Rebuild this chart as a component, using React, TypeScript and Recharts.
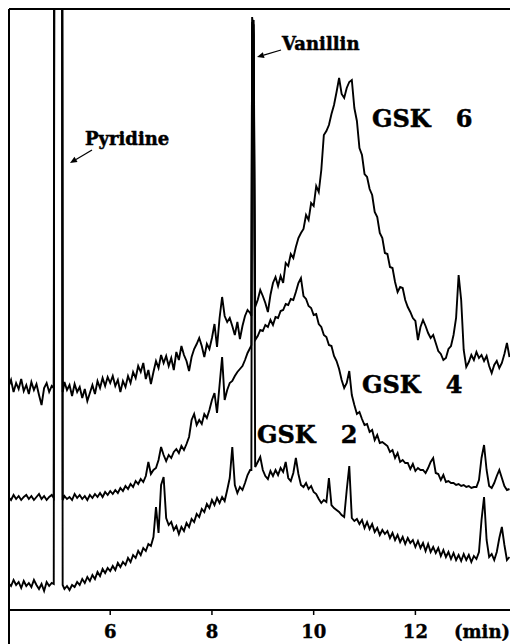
import React from "react";
import { LineChart, Line, XAxis, YAxis, ReferenceLine, ReferenceDot } from "recharts";

// Retention time (min)
const times = [
  4.00, 4.05, 4.10, 4.15, 4.20, 4.25, 4.30, 4.35, 4.40, 4.45,
  4.50, 4.55, 4.60, 4.65, 4.70, 4.75, 4.80, 4.85, 4.89, 4.905,
  5.05, 5.065, 5.10, 5.15, 5.20, 5.25, 5.30, 5.35, 5.40, 5.45,
  5.50, 5.55, 5.60, 5.65, 5.70, 5.75, 5.80, 5.85, 5.90, 5.95,
  6.00, 6.05, 6.10, 6.15, 6.20, 6.25, 6.30, 6.35, 6.40, 6.45,
  6.50, 6.55, 6.60, 6.65, 6.70, 6.75, 6.80, 6.85, 6.90, 6.95,
  7.00, 7.05, 7.10, 7.15, 7.20, 7.25, 7.30, 7.35, 7.40, 7.45,
  7.50, 7.55, 7.60, 7.65, 7.70, 7.75, 7.80, 7.85, 7.90, 7.95,
  8.00, 8.05, 8.10, 8.15, 8.20, 8.25, 8.30, 8.35, 8.40, 8.45,
  8.50, 8.55, 8.60, 8.65, 8.70, 8.75, 8.775, 8.79, 8.82, 8.85,
  8.90, 8.95, 9.00, 9.05, 9.10, 9.15, 9.20, 9.25, 9.30, 9.35,
  9.40, 9.45, 9.50, 9.55, 9.60, 9.65, 9.70, 9.75, 9.80, 9.85,
  9.90, 9.95, 10.00, 10.05, 10.10, 10.15, 10.20, 10.25, 10.30, 10.35,
  10.40, 10.45, 10.50, 10.55, 10.60, 10.65, 10.70, 10.75, 10.80, 10.85,
  10.90, 10.95, 11.00, 11.05, 11.10, 11.15, 11.20, 11.25, 11.30, 11.35,
  11.40, 11.45, 11.50, 11.55, 11.60, 11.65, 11.70, 11.75, 11.80, 11.85,
  11.90, 11.95, 12.00, 12.05, 12.10, 12.15, 12.20, 12.25, 12.30, 12.35,
  12.40, 12.45, 12.50, 12.55, 12.60, 12.65, 12.70, 12.75, 12.80, 12.85,
  12.90, 12.95, 13.00, 13.05, 13.10, 13.15, 13.20, 13.25, 13.30, 13.35,
  13.40, 13.45, 13.50, 13.55, 13.60, 13.65, 13.70, 13.75, 13.80, 13.85,
];

// Detector signal (arbitrary units, traces offset as in the figure)
const gsk6 = [
  223, 230, 218, 227, 221, 231, 219, 225, 216, 228,
  220, 226, 215, 205, 222, 227, 218, 224, 222, 1000,
  1000, 218, 228, 220, 225, 214, 226, 218, 223, 212,
  221, 209, 217, 225, 216, 229, 222, 232, 224, 233,
  227, 234, 224, 230, 218, 229, 223, 234, 227, 238,
  232, 244, 238, 247, 231, 240, 226, 238, 249, 242,
  255, 247, 254, 244, 252, 240, 258, 250, 264, 255,
  249, 239, 253, 261, 266, 272, 264, 253, 266, 261,
  272, 286, 263, 292, 313, 294, 288, 292, 284, 275,
  288, 271, 284, 294, 300, 297, 294, 588, 585, 303,
  310, 320, 314, 307, 298, 315, 327, 333, 324, 334,
  327, 347, 344, 356, 352, 363, 372, 377, 381, 395,
  390, 407, 404, 424, 418, 440, 475, 479, 485, 496,
  505, 518, 532, 516, 512, 522, 528, 530, 502, 489,
  462, 455, 436, 433, 421, 415, 398, 393, 377, 372,
  357, 356, 343, 342, 328, 318, 323, 322, 310, 303,
  298, 292, 289, 270, 283, 290, 284, 277, 272, 275,
  267, 259, 256, 250, 252, 261, 264, 275, 292, 335,
  310, 260, 243, 248, 255, 250, 258, 252, 255, 249,
  254, 244, 237, 245, 249, 242, 247, 256, 267, 253,
];

const gsk4 = [
  113, 110, 115, 111, 114, 110, 113, 115, 111, 114,
  110, 113, 116, 111, 114, 110, 113, 115, 112, 1000,
  1000, 110, 114, 111, 113, 110, 116, 112, 115, 111,
  114, 110, 115, 112, 116, 113, 117, 113, 118, 115,
  119, 116, 120, 117, 122, 119, 124, 121, 126, 123,
  129, 126, 131, 128, 134, 148, 136, 140, 142, 150,
  163, 155, 149, 155, 152, 158, 161, 157, 164, 160,
  166, 173, 190, 196, 185, 190, 186, 196, 192, 200,
  210, 217, 197, 225, 253, 210, 220, 227, 229, 234,
  238, 241, 244, 250, 257, 262, 265, 593, 575, 270,
  274, 280, 279, 285, 283, 290, 285, 293, 292, 299,
  300, 306, 305, 311, 310, 318, 327, 332, 314, 311,
  304, 302, 295, 296, 286, 283, 275, 273, 265, 264,
  254, 249, 241, 230, 222, 227, 239, 215, 205, 196,
  198, 191, 185, 186, 178, 180, 170, 175, 167, 168,
  166, 164, 158, 160, 152, 157, 148, 150, 147, 147,
  141, 146, 139, 142, 140, 140, 137, 142, 148, 152,
  137, 136, 130, 135, 128, 129, 127, 127, 125, 126,
  124, 125, 123, 124, 122, 123, 123, 130, 152, 165,
  140, 124, 122, 127, 134, 140, 132, 124, 120, 121,
];

const gsk2 = [
  27, 24, 30, 25, 28, 22, 29, 24, 27, 23,
  30, 25, 21, 26, 19, 28, 24, 27, 26, 1000,
  1000, 25, 21, 24, 20, 25, 23, 28, 25, 31,
  27, 33, 29, 35, 31, 38, 34, 41, 37, 42,
  39, 44, 40, 47, 43, 48, 45, 52, 48, 55,
  52, 59, 55, 62, 59, 66, 64, 73, 103, 77,
  125, 133, 92, 85, 88, 80, 84, 76, 83, 79,
  87, 83, 91, 88, 96, 93, 101, 98, 106, 102,
  110, 105, 112, 107, 113, 109, 120, 132, 163, 125,
  117, 123, 120, 127, 135, 140, 140, 580, 590, 143,
  148, 153, 140, 134, 131, 139, 134, 140, 135, 142,
  138, 148, 132, 129, 137, 152, 136, 125, 123, 127,
  121, 124, 118, 116, 111, 107, 110, 108, 132, 105,
  102, 100, 98, 95, 93, 120, 144, 92, 89, 91,
  86, 90, 82, 88, 81, 86, 78, 82, 75, 80,
  76, 79, 72, 77, 70, 75, 68, 73, 66, 72,
  67, 70, 63, 69, 62, 67, 59, 66, 58, 63,
  57, 62, 54, 60, 53, 58, 51, 57, 50, 55,
  49, 56, 50, 55, 48, 54, 51, 58, 90, 113,
  70, 53, 56, 50, 58, 72, 83, 65, 50, 53,
];

const xTicks = [6, 8, 10, 12];
const X_DOMAIN: [number, number] = [4.01, 13.86];
const Y_DOMAIN: [number, number] = [0, 601];

const textLabels = [
  { t: 5.504, v: 465, text: "Pyridine", size: 18 },
  { t: 9.378, v: 560, text: "Vanillin", size: 18 },
  { t: 11.147, v: 483, text: "GSK\u00A0\u00A0\u00A06", size: 24 },
  { t: 10.951, v: 217, text: "GSK\u00A0\u00A0\u00A04", size: 24 },
  { t: 8.886, v: 167, text: "GSK\u00A0\u00A0\u00A02", size: 24 },
];

const arrows = [
  { t1: 5.642, v1: 460, t2: 5.209, v2: 447 },
  { t1: 9.358, v1: 560, t2: 8.886, v2: 553 },
];

const rows = times.map((t, i) => ({ t, gsk6: gsk6[i], gsk4: gsk4[i], gsk2: gsk2[i] }));

const FONT = "'DejaVu Serif', 'Liberation Serif', serif";

const ArrowShape = (p: any) => {
  const { x1, y1, x2, y2 } = p;
  const ang = Math.atan2(y2 - y1, x2 - x1);
  const L = 7;
  const W = 3;
  const bx = x2 - L * Math.cos(ang);
  const by = y2 - L * Math.sin(ang);
  const px = -Math.sin(ang) * W;
  const py = Math.cos(ang) * W;
  return (
    <g>
      <line x1={x1} y1={y1} x2={bx} y2={by} stroke="#000" strokeWidth={1.3} />
      <polygon points={`${x2},${y2} ${bx + px},${by + py} ${bx - px},${by - py}`} fill="#000" />
    </g>
  );
};

const MinLabel = () => (
  <text x={502} y={630} textAnchor="end" fill="#000" stroke="#000" strokeWidth={0.4}
    fontFamily={FONT} fontWeight="bold" fontSize={18}>
    (min)
  </text>
);

export default function App() {
  return (
    <div style={{ position: "absolute", left: 8, top: 8, width: 502, height: 636, overflow: "hidden" }}>
      <LineChart width={502} height={636} data={rows} margin={{ top: 1, right: 0, bottom: 0, left: 1 }}>
        <XAxis
          dataKey="t"
          type="number"
          domain={X_DOMAIN}
          ticks={xTicks}
          allowDataOverflow
          height={34}
          tickSize={5}
          tickMargin={10}
          axisLine={{ stroke: "#000", strokeWidth: 2 }}
          tickLine={{ stroke: "#000", strokeWidth: 1.5 }}
          tick={{ fill: "#000", stroke: "#000", strokeWidth: 0.4, fontSize: 18, fontFamily: FONT, fontWeight: "bold" }}
          label={MinLabel}
        />
        <YAxis hide type="number" domain={Y_DOMAIN} allowDataOverflow />
        <ReferenceLine y={601} stroke="#000" strokeWidth={2} ifOverflow="visible" />
        <ReferenceLine
          segment={[{ x: 4.01, y: -40 }, { x: 4.01, y: 601 }]}
          stroke="#000"
          strokeWidth={2}
          ifOverflow="visible"
        />
        <Line dataKey="gsk6" type="linear" stroke="#000" strokeWidth={1.9} dot={false} isAnimationActive={false} />
        <Line dataKey="gsk4" type="linear" stroke="#000" strokeWidth={1.9} dot={false} isAnimationActive={false} />
        <Line dataKey="gsk2" type="linear" stroke="#000" strokeWidth={1.9} dot={false} isAnimationActive={false} />
        {arrows.map((a, i) => (
          <ReferenceLine
            key={"a" + i}
            segment={[{ x: a.t1, y: a.v1 }, { x: a.t2, y: a.v2 }]}
            ifOverflow="visible"
            shape={ArrowShape}
          />
        ))}
        {textLabels.map((l, i) => (
          <ReferenceDot
            key={"l" + i}
            x={l.t}
            y={l.v}
            r={0}
            ifOverflow="visible"
            shape={(p: any) => (
              <text x={p.cx} y={p.cy} fill="#000" stroke="#000" strokeWidth={0.5}
                fontFamily={FONT} fontWeight="bold" fontSize={l.size}>
                {l.text}
              </text>
            )}
          />
        ))}
      </LineChart>
    </div>
  );
}
